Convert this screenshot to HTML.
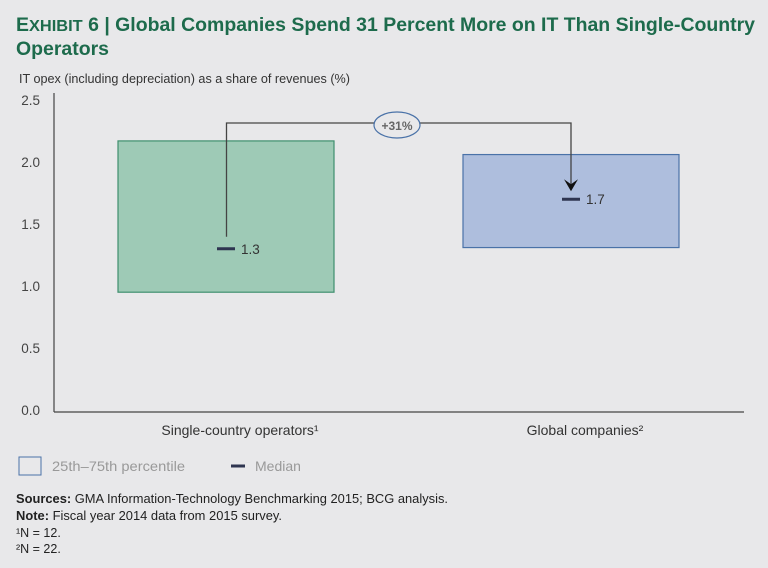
<!DOCTYPE html>
<html><head><meta charset="utf-8"><style>
html,body{margin:0;padding:0;background:#e8e8ea;}
svg{display:block;font-family:"Liberation Sans",sans-serif;}
</style></head><body>
<svg id="chart" width="768" height="568" viewBox="0 0 768 568">
<rect width="768" height="568" fill="#e8e8ea"/>
<text x="16" y="31" font-size="19" font-weight="bold" fill="#1d6b4c" textLength="739" lengthAdjust="spacingAndGlyphs">E<tspan font-size="16">XHIBIT</tspan> 6 | Global Companies Spend 31 Percent More on IT Than Single-Country</text>
<text x="16" y="55" font-size="19" font-weight="bold" fill="#1d6b4c" textLength="93" lengthAdjust="spacingAndGlyphs">Operators</text>
<text x="19" y="83" font-size="12.5" fill="#333" textLength="331" lengthAdjust="spacingAndGlyphs">IT opex (including depreciation) as a share of revenues (%)</text>
<g id="axes"></g>
<g id="marks"></g>
<g>
<rect x="19" y="457" width="22" height="18" fill="none" stroke="#4a72a8" stroke-width="1"/>
<text x="52" y="471" font-size="14" fill="#999" textLength="133" lengthAdjust="spacingAndGlyphs">25th–75th percentile</text>
<line x1="231" y1="466" x2="245" y2="466" stroke="#2e3550" stroke-width="3"/>
<text x="255" y="471" font-size="14" fill="#999">Median</text>
</g>
<g font-size="12.5" fill="#222">
<text x="16" y="503" textLength="432" lengthAdjust="spacingAndGlyphs"><tspan font-weight="bold">Sources:</tspan> GMA Information-Technology Benchmarking 2015; BCG analysis.</text>
<text x="16" y="520" textLength="266" lengthAdjust="spacingAndGlyphs"><tspan font-weight="bold">Note:</tspan> Fiscal year 2014 data from 2015 survey.</text>
<text x="16" y="537">¹N = 12.</text>
<text x="16" y="553">²N = 22.</text>
</g>
</svg>
<script>
const categories = ["Single-country operators", "Global companies"];
const sups = ["¹", "²"];
const q1 = [0.95, 1.31];
const q3 = [2.17, 2.06];
const medians = [1.3, 1.7];
const medianLabels = ["1.3", "1.7"];
const yTicks = [0, 0.5, 1.0, 1.5, 2.0, 2.5];
const yTickLabels = ["0.0", "0.5", "1.0", "1.5", "2.0", "2.5"];
const changeLabel = "+31%";

const NS = "http://www.w3.org/2000/svg";
const y = v => 410 - v * 124;
const xCenter = i => 226 + i * 345;
const boxW = 216;
const fills = ["#9ecab6", "#aebedd"], strokes = ["#3f8f6e", "#4a72a8"];
function mk(tag, attrs, parent, text) {
  const e = document.createElementNS(NS, tag);
  for (const k in attrs) e.setAttribute(k, attrs[k]);
  if (text !== undefined) e.textContent = text;
  parent.appendChild(e);
  return e;
}
const axes = document.getElementById("axes"), marks = document.getElementById("marks");
let a = mk("line", {x1: 54, y1: 93, x2: 54, y2: 412, stroke: "#444", "stroke-width": 1.2}, axes);


a = mk("line", {x1: 54, y1: 412, x2: 744, y2: 412, stroke: "#444", "stroke-width": 1.2}, axes);


yTicks.forEach((v, i) => {
  const t = mk("text", {x: 40, y: y(v) + 5, "font-size": 13.5, fill: "#444", "text-anchor": "end"}, axes, yTickLabels[i]);
  
  
});
categories.forEach((c, i) => {
  const t = mk("text", {x: xCenter(i) + 14, y: 435, "font-size": 14, fill: "#333", "text-anchor": "middle"}, axes, c + sups[i]);
  
  
  const r = mk("rect", {x: xCenter(i) - 108, y: y(q3[i]), width: boxW, height: y(q1[i]) - y(q3[i]), fill: fills[i], stroke: strokes[i], "stroke-width": 1.2}, marks);
  
  
  const m = mk("line", {x1: xCenter(i) - 9, x2: xCenter(i) + 9, y1: y(medians[i]), y2: y(medians[i]), stroke: "#2e3550", "stroke-width": 3}, marks);
  
  
  const ml = mk("text", {x: xCenter(i) + 15, y: y(medians[i]) + 5, "font-size": 13.5, fill: "#333"}, marks, medianLabels[i]);
  
  
});
const topY = 123;
const x0 = xCenter(0) + 0.5, x1 = xCenter(1);
const p = mk("path", {d: `M${x0},${y(medians[0]) - 12} V${topY} H${x1} V${y(medians[1]) - 10}`, fill: "none", stroke: "#444", "stroke-width": 1.3}, marks);


const ah = mk("path", {d: `M${x1 - 7},${y(medians[1]) - 20} L${x1},${y(medians[1]) - 8} L${x1 + 7},${y(medians[1]) - 20} L${x1},${y(medians[1]) - 15} Z`, fill: "#111"}, marks);


const el = mk("ellipse", {cx: 397, cy: 125, rx: 23, ry: 13, fill: "#e8e8ea", stroke: "#4a72a8", "stroke-width": 1.2}, marks);


const ct = mk("text", {x: 397, y: 130, "font-size": 12, "font-weight": "bold", fill: "#666", "text-anchor": "middle"}, marks, changeLabel);


</script>
</body></html>
